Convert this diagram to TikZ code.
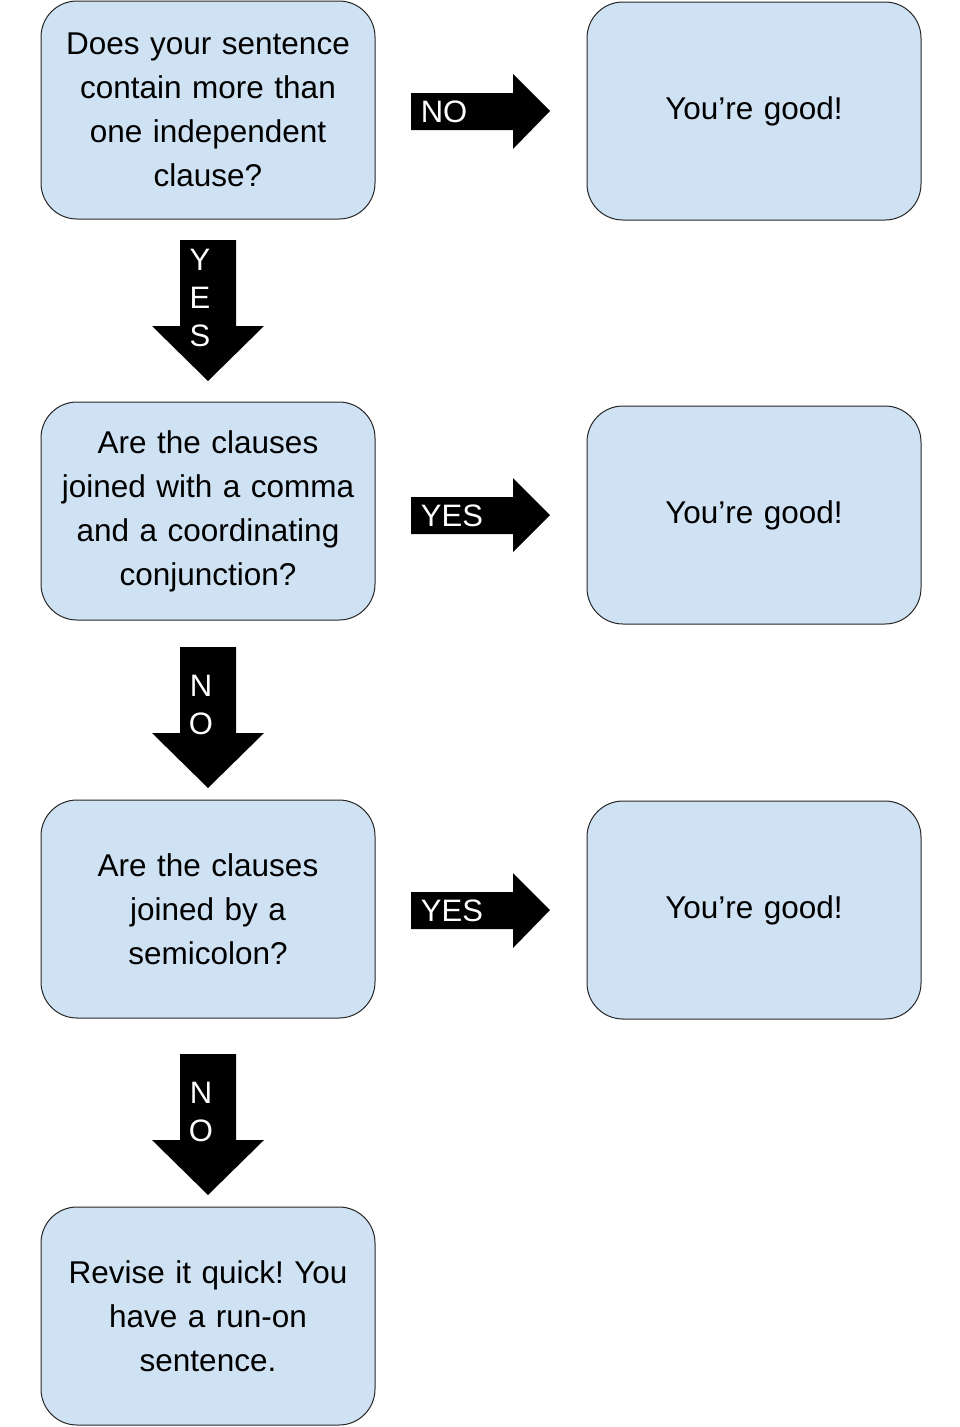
\documentclass[tikz,border=0pt]{standalone}
\usepackage{fontspec}
\setmainfont{Liberation Sans}
\frenchspacing
\definecolor{boxblue}{HTML}{CFE2F3}
\begin{document}
\begin{tikzpicture}[x=1pt,y=-1pt,
  box/.style={draw=black!85, line width=1pt, fill=boxblue, rounded corners=36pt,
    minimum width=334pt, minimum height=218pt, align=center, text width=320pt,
    font=\fontsize{31.5}{44}\selectfont},
  arrowlbl/.style={text=white, inner sep=0pt, font=\fontsize{31}{38}\selectfont},
  blk/.style={fill=black}]
\useasboundingbox (0,0) rectangle (960,1427);
\fill[white] (0,0) rectangle (960,1427);
% boxes
\node[box] (q1) at (208,110) {Does your sentence\\contain more than\\one independent\\clause?};
\node[box] (q2) at (208,511) {Are the clauses\\joined with a comma\\and a coordinating\\conjunction?};
\node[box] (q3) at (208,909) {Are the clauses\\joined by a\\semicolon?};
\node[box] (q4) at (208,1316) {Revise it quick!\ You\\have a run-on\\sentence.};
\node[box] (g1) at (754,111) {You’re good!};
\node[box] (g2) at (754,515) {You’re good!};
\node[box] (g3) at (754,910) {You’re good!};
% right arrows
\fill[blk] (411,93) -- (513,93) -- (513,74) -- (550,111) -- (513,149) -- (513,130) -- (411,130) -- cycle;
\node[arrowlbl] (n1) at (444,112) {NO};
\fill[blk] (411,497) -- (513,497) -- (513,478) -- (550,515) -- (513,552) -- (513,534) -- (411,534) -- cycle;
\node[arrowlbl] (y2) at (452,516) {YES};
\fill[blk] (411,892) -- (513,892) -- (513,873) -- (550,910) -- (513,948) -- (513,929) -- (411,929) -- cycle;
\node[arrowlbl] (y3) at (452,911) {YES};
% down arrows
\fill[blk] (180,240) -- (236,240) -- (236,326) -- (264,326) -- (208,381) -- (152,326) -- (180,326) -- cycle;
\node[arrowlbl] (d1y) at (200,260) {Y};
\node[arrowlbl] (d1e) at (200,298) {E};
\node[arrowlbl] (d1s) at (200,336) {S};
\fill[blk] (180,647) -- (236,647) -- (236,733) -- (264,733) -- (208,788) -- (152,733) -- (180,733) -- cycle;
\node[arrowlbl] (d2n) at (201,686) {N};
\node[arrowlbl] (d2o) at (201,724) {O};
\fill[blk] (180,1054) -- (236,1054) -- (236,1140) -- (264,1140) -- (208,1195) -- (152,1140) -- (180,1140) -- cycle;
\node[arrowlbl] (d3n) at (201,1093) {N};
\node[arrowlbl] (d3o) at (201,1131) {O};
\end{tikzpicture}
\end{document}
